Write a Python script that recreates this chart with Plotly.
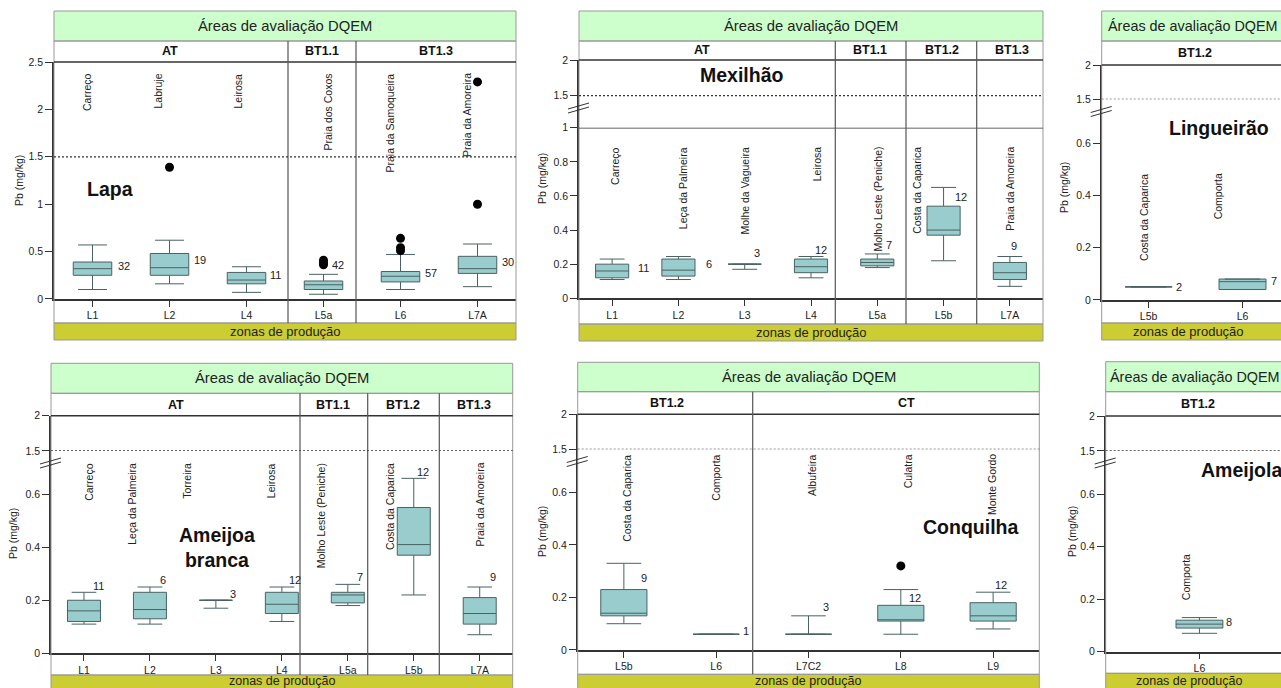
import plotly.graph_objects as go

W, H = 1281, 688
FONT = "Liberation Sans, Arial, sans-serif"

# ---------------- data ----------------
# Lapa
lapa_zones = ["L1", "L2", "L4", "L5a", "L6", "L7A"]
lapa_sites = ["Carreço", "Labruje", "Leirosa", "Praia dos Coxos",
              "Praia da Samoqueira", "Praia da Amoreira"]
lapa_low = [0.10, 0.16, 0.07, 0.05, 0.10, 0.13]
lapa_q1 = [0.25, 0.25, 0.16, 0.10, 0.18, 0.27]
lapa_med = [0.32, 0.33, 0.20, 0.15, 0.24, 0.32]
lapa_q3 = [0.39, 0.48, 0.28, 0.19, 0.29, 0.45]
lapa_high = [0.57, 0.62, 0.34, 0.26, 0.47, 0.58]
lapa_n = [32, 19, 11, 42, 57, 30]
lapa_out_zone = ["L2", "L5a", "L5a", "L5a", "L6", "L6", "L6", "L7A", "L7A"]
lapa_out_val = [1.39, 0.36, 0.38, 0.41, 0.51, 0.54, 0.64, 1.00, 2.29]

# Mexilhão
mex_zones = ["L1", "L2", "L3", "L4", "L5a", "L5b", "L7A"]
mex_sites = ["Carreço", "Leça da Palmeira", "Molhe da Vagueira", "Leirosa",
             "Molho Leste (Peniche)", "Costa da Caparica", "Praia da Amoreira"]
mex_low = [0.11, 0.11, 0.17, 0.12, 0.18, 0.22, 0.07]
mex_q1 = [0.12, 0.13, 0.20, 0.15, 0.19, 0.37, 0.11]
mex_med = [0.16, 0.165, 0.20, 0.185, 0.21, 0.40, 0.15]
mex_q3 = [0.20, 0.23, 0.20, 0.23, 0.23, 0.54, 0.21]
mex_high = [0.23, 0.245, 0.20, 0.245, 0.26, 0.65, 0.245]
mex_n = [11, 6, 3, 12, 7, 12, 9]

# Lingueirão
lin_zones = ["L5b", "L6"]
lin_sites = ["Costa da Caparica", "Comporta"]
lin_low = [0.05, 0.04]
lin_q1 = [0.05, 0.04]
lin_med = [0.05, 0.07]
lin_q3 = [0.05, 0.08]
lin_high = [0.05, 0.08]
lin_n = [2, 7]

# Ameijoa branca
amb_zones = ["L1", "L2", "L3", "L4", "L5a", "L5b", "L7A"]
amb_sites = ["Carreço", "Leça da Palmeira", "Torreira", "Leirosa",
             "Molho Leste (Peniche)", "Costa da Caparica", "Praia da Amoreira"]
amb_low = [0.11, 0.11, 0.17, 0.12, 0.18, 0.22, 0.07]
amb_q1 = [0.12, 0.13, 0.20, 0.15, 0.19, 0.37, 0.11]
amb_med = [0.16, 0.165, 0.20, 0.185, 0.22, 0.41, 0.15]
amb_q3 = [0.20, 0.23, 0.20, 0.23, 0.23, 0.55, 0.21]
amb_high = [0.23, 0.25, 0.20, 0.25, 0.26, 0.66, 0.25]
amb_n = [11, 6, 3, 12, 7, 12, 9]

# Conquilha
con_zones = ["L5b", "L6", "L7C2", "L8", "L9"]
con_sites = ["Costa da Caparica", "Comporta", "Albufeira", "Culatra", "Monte Gordo"]
con_low = [0.10, 0.06, 0.06, 0.06, 0.08]
con_q1 = [0.13, 0.06, 0.06, 0.11, 0.11]
con_med = [0.14, 0.06, 0.06, 0.115, 0.13]
con_q3 = [0.23, 0.06, 0.06, 0.17, 0.18]
con_high = [0.33, 0.06, 0.13, 0.23, 0.22]
con_n = [9, 1, 3, 12, 12]
con_out_zone = ["L8"]
con_out_val = [0.32]

# Ameijola
ame_zones = ["L6"]
ame_sites = ["Comporta"]
ame_low = [0.07]
ame_q1 = [0.09]
ame_med = [0.105]
ame_q3 = [0.12]
ame_high = [0.13]
ame_n = [8]

THRESHOLD = 1.5
HEADER = "Áreas de avaliação DQEM"
FOOTER = "zonas de produção"
YTITLE = "Pb (mg/kg)"

# ---------------- panel layout (pixel geometry) ----------------
panels = [
    dict(name="Lapa", zones=lapa_zones, sites=lapa_sites, low=lapa_low, q1=lapa_q1,
         med=lapa_med, q3=lapa_q3, high=lapa_high, n=lapa_n,
         out_zone=lapa_out_zone, out_val=lapa_out_val,
         left=54, right=516, hdr_top=11, hdr_bot=41, sub_bot=62, low_top=None,
         plot_bot=299, lbl_bot=323, yel_bot=340, foot_y=331.5, foot_size=13,
         lower_range=[0, 2.5], lower_ticks=[0, 0.5, 1, 1.5, 2, 2.5], upper_range=None,
         xrange=[-0.5, 5.5], seps=[288, 356],
         groups=[("AT", 170), ("BT1.1", 322), ("BT1.3", 436)],
         head_x=285, head_anchor="center", head_size=14.8, foot_x=285, ytitle=(19, 181),
         site_top=2.4, site_dx=[-5, -12, -9, 4, -11, -10],
         cnt_dx=[31, 30, 29, 14, 30, 30], cnt_dy=[21, 20, 8, -9, 19, 18],
         label=("<b>Lapa</b>", 110, 189, "center"), brk=None, clipped=False),
    dict(name="Mexilhão", zones=mex_zones, sites=mex_sites, low=mex_low, q1=mex_q1,
         med=mex_med, q3=mex_q3, high=mex_high, n=mex_n, out_zone=[], out_val=[],
         left=579, right=1043, hdr_top=11, hdr_bot=41, sub_bot=60, low_top=127.7,
         plot_bot=298.3, lbl_bot=324, yel_bot=341, foot_y=332.5, foot_size=13,
         lower_range=[0, 1], lower_ticks=[0, 0.2, 0.4, 0.6, 0.8, 1], upper_range=[1.05, 2],
         xrange=[-0.5, 6.5], seps=[835.3, 906, 976.7],
         groups=[("AT", 702), ("BT1.1", 870), ("BT1.2", 942), ("BT1.3", 1012)],
         head_x=811, head_anchor="center", head_size=14.8, foot_x=811, ytitle=(542, 179),
         site_top=0.9, site_dx=[3, 4, 0, 6, 1, -26, 0],
         cnt_dx=[31, 31, 12, 10, 12, 17, 4], cnt_dy=[9, 8, -11, -6, -9, 10, -10],
         label=("<b>Mexilhão</b>", 742, 75, "center"), brk=108, clipped=False),
    dict(name="Lingueirão", zones=lin_zones, sites=lin_sites, low=lin_low, q1=lin_q1,
         med=lin_med, q3=lin_q3, high=lin_high, n=lin_n, out_zone=[], out_val=[],
         left=1101.7, right=1281, hdr_top=11, hdr_bot=41, sub_bot=65, low_top=99.3,
         plot_bot=300, lbl_bot=323, yel_bot=340, foot_y=331.5, foot_size=13,
         lower_range=[0, 0.767], lower_ticks=[0, 0.2, 0.4, 0.6], upper_range=[1.5, 2],
         xrange=[-0.5, 1.41], seps=[],
         groups=[("BT1.2", 1195)],
         head_x=1106, head_anchor="left", head_size=14.4, foot_x=1188, ytitle=(1064, 188),
         site_top=0.49, site_dx=[-4, -25],
         cnt_dx=[30, 31], cnt_dy=[0, 2],
         label=("<b>Lingueirão</b>", 1219, 128, "center"), brk=111.5, clipped=True),
    dict(name="Ameijoa branca", zones=amb_zones, sites=amb_sites, low=amb_low, q1=amb_q1,
         med=amb_med, q3=amb_q3, high=amb_high, n=amb_n, out_zone=[], out_val=[],
         left=51, right=512.7, hdr_top=363.3, hdr_bot=393.3, sub_bot=415.7, low_top=451,
         plot_bot=653.3, lbl_bot=675, yel_bot=692, foot_y=681, foot_size=12.5,
         lower_range=[0, 0.763], lower_ticks=[0, 0.2, 0.4, 0.6], upper_range=[1.5, 2],
         xrange=[-0.5, 6.5], seps=[300, 367.7, 439.3],
         groups=[("AT", 176), ("BT1.1", 333), ("BT1.2", 403), ("BT1.3", 474)],
         head_x=282, head_anchor="center", head_size=14.8, foot_x=282, ytitle=(13, 534),
         site_top=0.726, site_dx=[5, -18, -29, -11, -26, -23, 0],
         cnt_dx=[15, 13, 17, 13, 12, 9, 13], cnt_dy=[-6, -7, -6, -7, -7, -6, -10],
         label=("<b>Ameijoa<br>branca</b>", 217, 547, "center"), brk=463, clipped=False),
    dict(name="Conquilha", zones=con_zones, sites=con_sites, low=con_low, q1=con_q1,
         med=con_med, q3=con_q3, high=con_high, n=con_n,
         out_zone=con_out_zone, out_val=con_out_val,
         left=577.7, right=1039.3, hdr_top=362.3, hdr_bot=391.7, sub_bot=414.3, low_top=449.3,
         plot_bot=650, lbl_bot=674.3, yel_bot=692, foot_y=680.7, foot_size=12.5,
         lower_range=[0, 0.764], lower_ticks=[0, 0.2, 0.4, 0.6], upper_range=[1.5, 2],
         xrange=[-0.5, 4.5], seps=[752.7],
         groups=[("BT1.2", 667), ("CT", 906)],
         head_x=809, head_anchor="center", head_size=14.8, foot_x=808, ytitle=(542, 532),
         site_top=0.752, site_dx=[3, 0, 4, 8, -1],
         cnt_dx=[20, 30, 17, 14, 8], cnt_dy=[15, -3, -9, 8, -7],
         label=("<b>Conquilha</b>", 971, 527, "center"), brk=461.5, clipped=False),
    dict(name="Ameijola", zones=ame_zones, sites=ame_sites, low=ame_low, q1=ame_q1,
         med=ame_med, q3=ame_q3, high=ame_high, n=ame_n, out_zone=[], out_val=[],
         left=1105.7, right=1281, hdr_top=361.7, hdr_bot=391.7, sub_bot=416, low_top=451,
         plot_bot=651.7, lbl_bot=673.3, yel_bot=692, foot_y=680.5, foot_size=12.5,
         lower_range=[0, 0.765], lower_ticks=[0, 0.2, 0.4, 0.6], upper_range=[1.5, 2],
         xrange=[-1.0, 0.87], seps=[],
         groups=[("BT1.2", 1198)],
         head_x=1108, head_anchor="left", head_size=14.4, foot_x=1189, ytitle=(1072, 532),
         site_top=0.381, site_dx=[-14],
         cnt_dx=[30], cnt_dy=[4],
         label=("<b>Ameijola</b>", 1199, 470, "left"), brk=463, clipped=True),
]


def px(x):
    return x / W


def py(y):
    return 1 - y / H


def sfx(k):
    # plotly axis suffix: first axis has none
    return "" if k == 1 else str(k)


fig = go.Figure()
layout = dict(width=W, height=H,
              margin=dict(l=0, r=0, t=0, b=0, pad=0, autoexpand=False),
              paper_bgcolor="white", plot_bgcolor="rgba(0,0,0,0)",
              showlegend=False, font=dict(family=FONT, color="#222", size=11))
shapes, annotations = [], []

AX = dict(showgrid=False, zeroline=False, showline=True, linecolor="#333", linewidth=1.5,
          ticks="outside", tickcolor="#333", tickfont=dict(size=10.5, color="#222"),
          automargin=False)

for i, p in enumerate(panels, start=1):
    xa, ya = f"x{sfx(i)}", f"y{sfx(i)}"
    upper = p["upper_range"] is not None
    low_top = p["low_top"] if upper else p["sub_bot"]

    layout[f"xaxis{sfx(i)}"] = dict(AX, type="category", categoryorder="array",
                                    categoryarray=p["zones"], range=p["xrange"],
                                    domain=[px(p["left"]), min(1.0, px(p["right"]))],
                                    anchor=ya, ticklen=6, fixedrange=True)
    lr = p["lower_range"]
    layout[f"yaxis{sfx(i)}"] = dict(AX, range=[lr[0] - 1e-4, lr[1] + 1e-4],
                                    tickvals=p["lower_ticks"],
                                    domain=[py(p["plot_bot"]), py(low_top)], anchor=xa,
                                    ticklen=7, fixedrange=True)

    # boxes from the precomputed statistics
    fig.add_trace(go.Box(x=p["zones"], q1=p["q1"], median=p["med"], q3=p["q3"],
                         lowerfence=p["low"], upperfence=p["high"],
                         xaxis=xa, yaxis=ya, width=0.5, whiskerwidth=0.75,
                         fillcolor="#99cccc", line=dict(color="#4a6262", width=1),
                         boxpoints=False, hoverinfo="skip"))
    if p["out_zone"]:
        fig.add_trace(go.Scatter(x=p["out_zone"], y=p["out_val"], mode="markers",
                                 xaxis=xa, yaxis=ya, hoverinfo="skip",
                                 marker=dict(color="black", size=9)))

    thr_ref = ya
    if upper:
        ua = f"y{i + 6}"
        ur = p["upper_range"]
        layout[f"yaxis{i + 6}"] = dict(AX, range=[ur[0] - 1e-4, ur[1] + 1e-4], tickvals=[1.5, 2],
                                       domain=[py(low_top), py(p["sub_bot"])], anchor=xa,
                                       ticklen=7, fixedrange=True)
        fig.add_trace(go.Scatter(x=[], y=[], xaxis=xa, yaxis=ua, hoverinfo="skip"))
        thr_ref = ua

    frame_right = p["right"] + 6 if p["clipped"] else p["right"]
    L, R = px(p["left"]), px(frame_right)

    # header band, footer band and frame
    shapes.append(dict(type="rect", xref="paper", yref="paper", x0=L, x1=R,
                       y0=py(p["hdr_bot"]), y1=py(p["hdr_top"]),
                       fillcolor="#ccffcc", line=dict(color="#999", width=1), layer="below"))
    shapes.append(dict(type="rect", xref="paper", yref="paper", x0=L, x1=R,
                       y0=py(p["yel_bot"]), y1=py(p["lbl_bot"]),
                       fillcolor="#cccc33", line=dict(color="#999", width=1), layer="below"))
    shapes.append(dict(type="rect", xref="paper", yref="paper", x0=L, x1=R,
                       y0=py(p["lbl_bot"]), y1=py(p["hdr_bot"]),
                       line=dict(color="#999", width=1)))
    shapes.append(dict(type="line", xref="paper", yref="paper", x0=L, x1=R,
                       y0=py(p["sub_bot"]), y1=py(p["sub_bot"]),
                       line=dict(color="#333", width=1.5)))
    if p["name"] == "Mexilhão":
        shapes.append(dict(type="line", xref="paper", yref=ya, x0=L, x1=R, y0=1, y1=1,
                           line=dict(color="#333", width=1.5)))
    for s in p["seps"]:
        shapes.append(dict(type="line", xref="paper", yref="paper", x0=px(s), x1=px(s),
                           y0=py(p["lbl_bot"]), y1=py(p["hdr_bot"]),
                           line=dict(color="#555", width=1.2)))

    # limit line
    shapes.append(dict(type="line", xref=f"{xa} domain", yref=thr_ref, x0=0, x1=1,
                       y0=THRESHOLD, y1=THRESHOLD,
                       line=dict(color="#333", width=1.3, dash="2px,2px")))

    # axis break marks
    if p["brk"] is not None:
        ax0 = p["left"]
        yc = p["brk"]
        for d in (-2, 2):
            shapes.append(dict(type="line", xref="paper", yref="paper",
                               x0=px(ax0 - 11), x1=px(ax0 + 10),
                               y0=py(yc + 3 + d), y1=py(yc - 3 + d),
                               line=dict(color="#333", width=1)))

    # texts
    annotations.append(dict(xref="paper", yref="paper", x=px(p["head_x"]),
                            y=py((p["hdr_top"] + p["hdr_bot"]) / 2), text=HEADER,
                            showarrow=False, xanchor=p["head_anchor"], yanchor="middle",
                            font=dict(size=p["head_size"], color="#222")))
    annotations.append(dict(xref="paper", yref="paper", x=px(p["foot_x"]),
                            y=py(p["foot_y"]), text=FOOTER,
                            showarrow=False, xanchor="center", yanchor="middle",
                            font=dict(size=p["foot_size"], color="#222")))
    for g, gx in p["groups"]:
        annotations.append(dict(xref="paper", yref="paper", x=px(gx),
                                y=py((p["hdr_bot"] + p["sub_bot"]) / 2), text=f"<b>{g}</b>",
                                showarrow=False, xanchor="center", yanchor="middle",
                                font=dict(size=12.5, color="#111")))
    annotations.append(dict(xref="paper", yref="paper", x=px(p["ytitle"][0]),
                            y=py(p["ytitle"][1]), text=YTITLE, textangle=-90,
                            showarrow=False, xanchor="center", yanchor="middle",
                            font=dict(size=10.5, color="#222")))
    lt, lx, ly, lanc = p["label"]
    annotations.append(dict(xref="paper", yref="paper", x=px(lx), y=py(ly), text=lt,
                            showarrow=False, xanchor=lanc, yanchor="middle",
                            font=dict(size=19.5, color="#111")))
    for z, s, dx in zip(p["zones"], p["sites"], p["site_dx"]):
        annotations.append(dict(xref=xa, yref=ya, x=z, y=p["site_top"], text=s,
                                textangle=-90, showarrow=False, xanchor="center",
                                yanchor="top", xshift=dx,
                                font=dict(size=10.5, color="#222")))
    for z, hi, n, dx, dy in zip(p["zones"], p["high"], p["n"], p["cnt_dx"], p["cnt_dy"]):
        annotations.append(dict(xref=xa, yref=ya, x=z, y=hi, text=str(n),
                                showarrow=False, xanchor="center", yanchor="middle",
                                xshift=dx, yshift=-dy, font=dict(size=11, color="#222")))

layout["shapes"] = shapes
layout["annotations"] = annotations
fig.update_layout(**layout)
fig.write_html("out.html")
